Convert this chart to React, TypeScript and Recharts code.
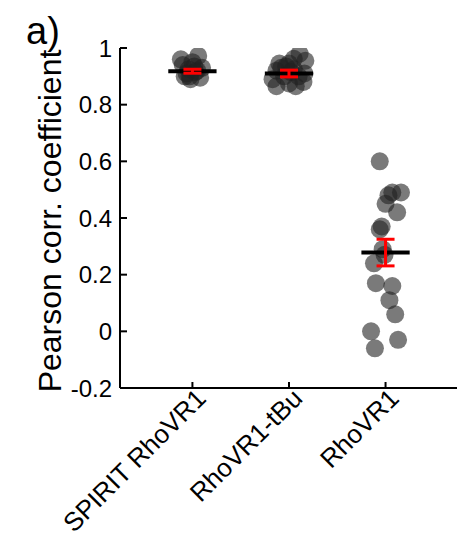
import React from "react";
import { ComposedChart, Scatter, XAxis, YAxis } from "recharts";

const categories = ["SPIRIT RhoVR1", "RhoVR1-tBu", "RhoVR1"];
const yTicks = [-0.2, 0, 0.2, 0.4, 0.6, 0.8, 1];

const spiritJitter = [-0.12, -0.1, -0.08, -0.02, 0.08, 0.1, 0.06, 0, -0.04, 0.03, -0.06, 0.02, -0.03, 0.05];
const spiritValues = [0.96, 0.94, 0.9, 0.89, 0.895, 0.93, 0.972, 0.95, 0.925, 0.915, 0.91, 0.935, 0.9, 0.92];

const tbuJitter = [0.11, 0.17, 0.05, 0, -0.1, -0.13, 0.16, 0.15, 0.07, -0.13, -0.17, 0, -0.05, 0.05, -0.08, 0.1, -0.03, 0.02];
const tbuValues = [0.98, 0.955, 0.962, 0.945, 0.945, 0.92, 0.91, 0.88, 0.865, 0.865, 0.89, 0.875, 0.9, 0.925, 0.93, 0.9, 0.935, 0.915];

const rhoJitter = [-0.06, 0.07, 0.16, 0.03, 0, 0.12, -0.06, -0.03, -0.12, -0.1, 0.07, 0.04, 0.1, -0.15, 0.13, -0.11, -0.04, -0.01];
const rhoValues = [0.6, 0.49, 0.49, 0.48, 0.45, 0.42, 0.36, 0.29, 0.24, 0.17, 0.16, 0.11, 0.06, 0.0, -0.03, -0.06, 0.37, 0.27];

const means = [0.918, 0.91, 0.278];
const sems = [0.007, 0.012, 0.047];
const meanHalfWidth = 0.25;

const toPoints = (jitter: number[], values: number[], cat: number) =>
  values.map((v, i) => ({ x: cat + jitter[i], y: v }));

const spiritData = toPoints(spiritJitter, spiritValues, 1);
const tbuData = toPoints(tbuJitter, tbuValues, 2);
const rhoData = toPoints(rhoJitter, rhoValues, 3);

const meanSegs = means.map((m, i) => [
  { x: i + 1 - meanHalfWidth, y: m },
  { x: i + 1 + meanHalfWidth, y: m },
]);
const errSegs = means.map((m, i) => [
  { x: i + 1, y: m - sems[i] },
  { x: i + 1, y: m + sems[i] },
]);

const FONT = "'Liberation Sans', Arial, sans-serif";

const Dot = (props: any) => (
  <circle cx={props.cx} cy={props.cy} r={9} fill="#222" fillOpacity={0.6} />
);

const Cap = (props: any) => (
  <line x1={props.cx - 9} x2={props.cx + 9} y1={props.cy} y2={props.cy} stroke="#ff0000" strokeWidth={3} />
);

const Empty = () => <g />;

const XTick = (props: any) => {
  const { x, y, payload } = props;
  const label = categories[Math.round(payload.value) - 1];
  const px = x + 15;
  const py = y + 12;
  return (
    <g>
      <line x1={x} x2={x} y1={y} y2={y - 6} stroke="#000" strokeWidth={2} />
      <text
        x={px}
        y={py}
        transform={`rotate(-45, ${px}, ${py})`}
        textAnchor="end"
        fontFamily={FONT}
        fontSize={26}
        fill="#000"
      >
        {label}
      </text>
    </g>
  );
};

const fmt = (v: number) => (v === 0 ? "0" : v === 1 ? "1" : v.toFixed(1));

const YTick = (props: any) => {
  const { x, y, payload } = props;
  return (
    <g>
      <line x1={x} x2={x + 7} y1={y} y2={y} stroke="#000" strokeWidth={2} />
      <text x={x - 8} y={y} dy="0.36em" textAnchor="end" fontFamily={FONT} fontSize={24} fill="#000">
        {fmt(payload.value)}
      </text>
    </g>
  );
};

export default function App() {
  return (
    <div style={{ position: "absolute", left: 0, top: 0, width: 457, height: 539, background: "#fff" }}>
      <ComposedChart width={457} height={539} margin={{ top: 48, right: 0, bottom: 0, left: 0 }}>
        <XAxis
          type="number"
          dataKey="x"
          domain={[0.25, 3.74]}
          ticks={[1, 2, 3]}
          allowDataOverflow
          height={151}
          tickSize={0}
          tickMargin={0}
          tickLine={false}
          axisLine={{ stroke: "#000", strokeWidth: 2 }}
          tick={<XTick />}
        />
        <YAxis
          type="number"
          dataKey="y"
          domain={[-0.2, 1]}
          ticks={yTicks}
          allowDataOverflow
          width={120}
          tickSize={0}
          tickMargin={0}
          tickLine={false}
          axisLine={{ stroke: "#000", strokeWidth: 2 }}
          tick={<YTick />}
        />
        <Scatter data={spiritData} shape={<Dot />} isAnimationActive={false} />
        <Scatter data={tbuData} shape={<Dot />} isAnimationActive={false} />
        <Scatter data={rhoData} shape={<Dot />} isAnimationActive={false} />
        {meanSegs.map((seg, i) => (
          <Scatter
            key={`m${i}`}
            data={seg}
            shape={<Empty />}
            line={{ stroke: "#000", strokeWidth: 4 }}
            isAnimationActive={false}
          />
        ))}
        {errSegs.map((seg, i) => (
          <Scatter
            key={`e${i}`}
            data={seg}
            shape={<Cap />}
            line={{ stroke: "#ff0000", strokeWidth: 3 }}
            isAnimationActive={false}
          />
        ))}
      </ComposedChart>
      <svg width={457} height={539} style={{ position: "absolute", left: 0, top: 0, pointerEvents: "none" }}>
        <text x={26} y={44} fontFamily={FONT} fontSize={38} fill="#000">a)</text>
        <text
          x={61}
          y={221}
          transform="rotate(-90, 61, 221)"
          textAnchor="middle"
          fontFamily={FONT}
          fontSize={32}
          fill="#000"
        >
          Pearson corr. coefficient
        </text>
      </svg>
    </div>
  );
}
